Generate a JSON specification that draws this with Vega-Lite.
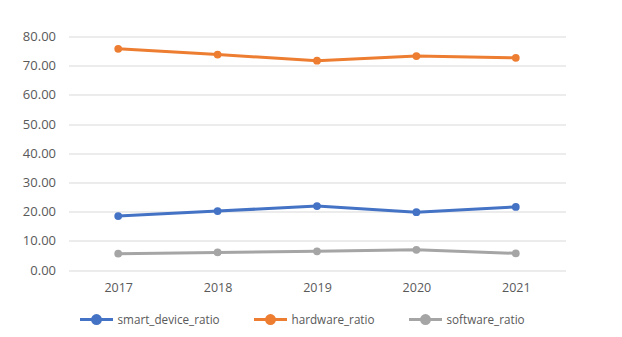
{
  "$schema": "https://vega.github.io/schema/vega-lite/v6.json",
  "width": 497,
  "height": 233.5,
  "autosize": "none",
  "padding": {"left": 68.5, "top": 36.5, "right": 56.5, "bottom": 67},
  "background": "white",
  "data": {
    "values": [
      {"year": "2017", "series": "smart_device_ratio", "value": 18.5},
      {"year": "2018", "series": "smart_device_ratio", "value": 20.2},
      {"year": "2019", "series": "smart_device_ratio", "value": 21.9},
      {"year": "2020", "series": "smart_device_ratio", "value": 19.8},
      {"year": "2021", "series": "smart_device_ratio", "value": 21.6},
      {"year": "2017", "series": "hardware_ratio", "value": 75.8},
      {"year": "2018", "series": "hardware_ratio", "value": 73.8},
      {"year": "2019", "series": "hardware_ratio", "value": 71.7},
      {"year": "2020", "series": "hardware_ratio", "value": 73.3},
      {"year": "2021", "series": "hardware_ratio", "value": 72.7},
      {"year": "2017", "series": "software_ratio", "value": 5.6},
      {"year": "2018", "series": "software_ratio", "value": 6.0},
      {"year": "2019", "series": "software_ratio", "value": 6.4},
      {"year": "2020", "series": "software_ratio", "value": 6.9},
      {"year": "2021", "series": "software_ratio", "value": 5.7}
    ]
  },
  "mark": {"type": "line", "strokeWidth": 3, "point": {"size": 60, "filled": true, "opacity": 1}},
  "encoding": {
    "x": {
      "field": "year",
      "type": "ordinal",
      "scale": {"type": "point", "padding": 0.5},
      "axis": {
        "title": null,
        "labelAngle": 0,
        "domain": false,
        "ticks": false,
        "grid": false,
        "labelPadding": 11,
        "labelFont": "Open Sans",
        "labelFontSize": 12.5,
        "labelColor": "#595959"
      }
    },
    "y": {
      "field": "value",
      "type": "quantitative",
      "scale": {"domain": [0, 80], "nice": false},
      "axis": {
        "title": null,
        "values": [0, 10, 20, 30, 40, 50, 60, 70, 80],
        "format": ".2f",
        "domain": false,
        "ticks": false,
        "labelPadding": 13,
        "labelFont": "Open Sans",
        "labelFontSize": 13,
        "labelColor": "#595959",
        "gridColor": "#D9D9D9",
        "gridWidth": 1.2
      }
    },
    "color": {
      "field": "series",
      "type": "nominal",
      "sort": ["smart_device_ratio", "hardware_ratio", "software_ratio"],
      "scale": {
        "domain": ["smart_device_ratio", "hardware_ratio", "software_ratio"],
        "range": ["#4472C4", "#ED7D31", "#A5A5A5"]
      },
      "legend": {
        "title": null,
        "orient": "none",
        "direction": "horizontal",
        "legendX": 10,
        "legendY": 265,
        "columnPadding": 27,
        "symbolType": "M -1 0 L 1 0 M -0.24 0 A 0.24 0.24 0 1 1 0.24 0 A 0.24 0.24 0 1 1 -0.24 0",
        "symbolSize": 1089,
        "symbolStrokeWidth": 3,
        "labelOffset": 3,
        "labelFont": "Open Sans",
        "labelFontSize": 11.7,
        "labelColor": "#595959",
        "encode": {
          "symbols": {
            "update": {
              "fill": {"scale": "color", "field": "value"},
              "stroke": {"scale": "color", "field": "value"},
              "opacity": {"value": 1}
            }
          }
        }
      }
    }
  },
  "config": {
    "view": {"stroke": null}
  }
}
